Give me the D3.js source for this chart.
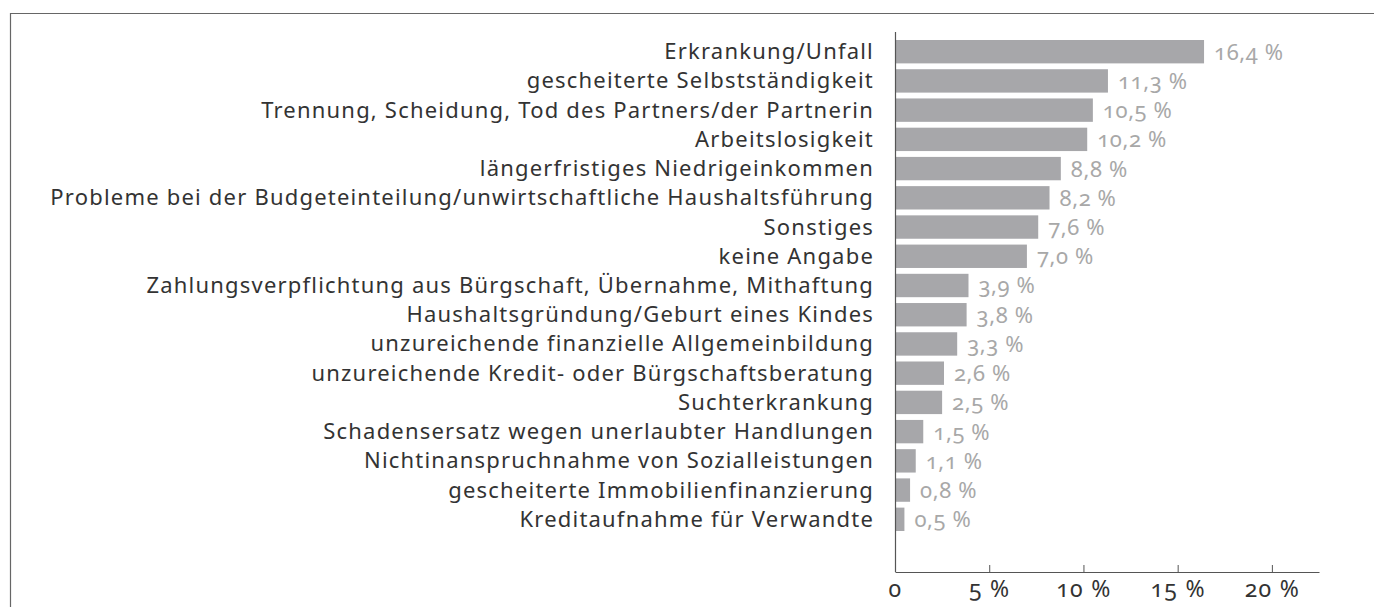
<!DOCTYPE html>
<html>
<head>
<meta charset="utf-8">
<script src="https://cdn.jsdelivr.net/npm/d3@7"></script>
<style>
  body { margin: 0; background: #fff; }
  svg text { font-family: "Noto Sans", sans-serif; font-variant-numeric: oldstyle-nums; font-feature-settings: "onum"; }
</style>
</head>
<body>
<div id="chart"></div>
<script>
const CATEGORIES = [
    "Erkrankung/Unfall",
    "gescheiterte Selbstständigkeit",
    "Trennung, Scheidung, Tod des Partners/der Partnerin",
    "Arbeitslosigkeit",
    "längerfristiges Niedrigeinkommen",
    "Probleme bei der Budgeteinteilung/unwirtschaftliche Haushaltsführung",
    "Sonstiges",
    "keine Angabe",
    "Zahlungsverpflichtung aus Bürgschaft, Übernahme, Mithaftung",
    "Haushaltsgründung/Geburt eines Kindes",
    "unzureichende finanzielle Allgemeinbildung",
    "unzureichende Kredit- oder Bürgschaftsberatung",
    "Suchterkrankung",
    "Schadensersatz wegen unerlaubter Handlungen",
    "Nichtinanspruchnahme von Sozialleistungen",
    "gescheiterte Immobilienfinanzierung",
    "Kreditaufnahme für Verwandte",
];
const VALUES = [16.4, 11.3, 10.5, 10.2, 8.8, 8.2, 7.6, 7.0, 3.9, 3.8, 3.3, 2.6, 2.5, 1.5, 1.1, 0.8, 0.5];
const X_TICKS = [0, 5, 10, 15, 20];

const W = 1374, H = 607;
const de = d3.formatLocale({ decimal: ",", thousands: ".", grouping: [3], currency: ["", " €"] });
const fmt = de.format(".1f");

const svg = d3.select("#chart").append("svg")
    .attr("width", W)
    .attr("height", H);

// frame (top and left edge)
svg.append("path")
    .attr("d", `M10.5,${H} V13.5 H${W}`)
    .attr("fill", "none")
    .attr("stroke", "#666")
    .attr("stroke-width", 1.2);

const x = d3.scaleLinear().domain([0, 22.5]).range([895, 1319]);
const y = d3.scaleBand()
    .domain(CATEGORIES)
    .range([40, 531])
    .paddingInner(0.2)
    .paddingOuter(0);

const axisY = 572;

svg.selectAll(".bar")
    .data(VALUES)
    .enter().append("rect")
    .attr("class", "bar")
    .attr("x", x(0))
    .attr("y", (d, i) => y(CATEGORIES[i]))
    .attr("width", d => x(d) - x(0))
    .attr("height", y.bandwidth())
    .attr("fill", "#a7a7aa");

svg.selectAll(".val")
    .data(VALUES)
    .enter().append("text")
    .attr("class", "val")
    .attr("x", d => x(d) + 10)
    .attr("y", (d, i) => y(CATEGORIES[i]) + y.bandwidth() / 2)
    .attr("dy", "0.36em")
    .style("font-size", "22px")
    .style("letter-spacing", "0.6px")
    .style("fill", "#a8a8a8")
    .text(d => `${fmt(d)} %`);

svg.selectAll(".cat")
    .data(CATEGORIES)
    .enter().append("text")
    .attr("class", "cat")
    .attr("x", x(0) - 21)
    .attr("y", d => y(d) + y.bandwidth() / 2)
    .attr("dy", "0.34em")
    .attr("text-anchor", "end")
    .style("font-size", "22px")
    .style("letter-spacing", "1.2px")
    .style("fill", "#333")
    .text(d => d);

// vertical axis line
svg.append("line")
    .attr("x1", x(0) + 0.5).attr("x2", x(0) + 0.5)
    .attr("y1", 32).attr("y2", axisY)
    .attr("stroke", "#555")
    .attr("stroke-width", 1.2);

const xAxis = svg.append("g")
    .attr("transform", `translate(0, ${axisY})`)
    .call(d3.axisBottom(x)
        .tickValues(X_TICKS)
        .tickSizeInner(-7)
        .tickSizeOuter(0)
        .tickFormat(d => d === 0 ? "0" : `${d} %`));

xAxis.select(".domain").attr("stroke", "#555").attr("stroke-width", 1.2);
xAxis.selectAll(".tick line").attr("stroke", "#555");
xAxis.selectAll(".tick text")
    .attr("y", 25)
    .attr("dy", 0)
    .style("font-size", "23px")
    .style("letter-spacing", "1.3px")
    .style("fill", "#333");
</script>
</body>
</html>
